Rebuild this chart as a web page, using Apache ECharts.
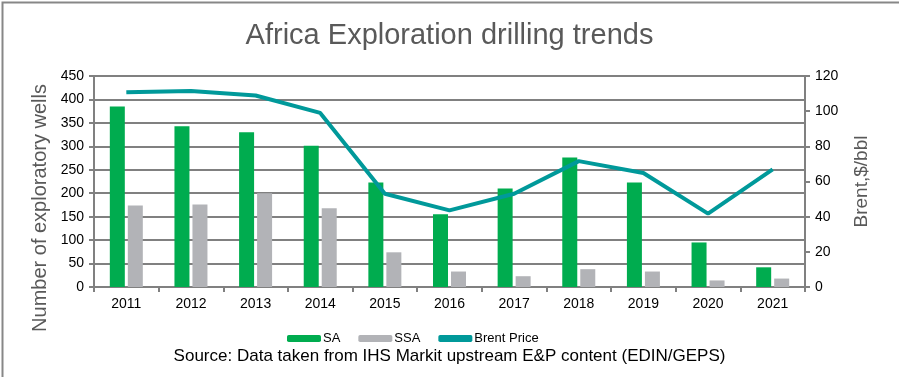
<!DOCTYPE html>
<html>
<head>
<meta charset="utf-8">
<script src="https://cdn.jsdelivr.net/npm/echarts@6/dist/echarts.min.js"></script>
<style>
  html, body { margin: 0; padding: 0; background: #fff; }
  #chart { width: 899px; height: 377px; }
</style>
</head>
<body>
<div id="chart"></div>
<script>
const years = ['2011', '2012', '2013', '2014', '2015', '2016', '2017', '2018', '2019', '2020', '2021']
const saWells = [385, 343, 330, 301, 223, 155, 210, 276, 223, 95, 42]
const ssaWells = [174, 176, 200, 168, 74, 33, 23, 38, 33, 14, 18]
const brentPrice = [110.8, 111.5, 108.9, 99, 53, 43.6, 53, 71.6, 64.8, 41.7, 66.9]

const chart = echarts.init(document.getElementById('chart'))

// 统一字体
const font = 'Liberation Sans, Arial, sans-serif'

chart.setOption({
  animation: false,
  textStyle: { fontFamily: font },

  title: {
    text: 'Africa Exploration drilling trends',
    left: 'center',
    top: 16,
    textStyle: {
      color: '#595959',
      fontWeight: 'normal',
      fontSize: 29,
      fontFamily: font
    }
  },

  grid: {
    left: 94,
    right: 94,
    top: 76,
    bottom: 90,
    containLabel: false
  },

  legend: {
    data: [
      { name: 'SA' },
      { name: 'SSA' },
      { name: 'Brent Price', icon: 'roundRect' }
    ],
    top: 327,
    left: 282,
    itemWidth: 34,
    itemHeight: 7,
    itemGap: 18,
    textStyle: { color: '#000', fontSize: 13, fontFamily: font, padding: [0, 0, 0, -3] }
  },

  xAxis: {
    type: 'category',
    data: years,
    axisLine: { lineStyle: { color: '#808080', width: 2 } },
    axisTick: { show: true, length: 5, lineStyle: { color: '#808080', width: 2 } },
    axisLabel: { color: '#000', fontSize: 14, margin: 10, fontFamily: font }
  },

  yAxis: [
    {
      type: 'value',
      min: 0,
      max: 450,
      interval: 50,
      axisLine: { show: true, lineStyle: { color: '#808080', width: 2 } },
      axisTick: { show: true, length: 5, lineStyle: { color: '#808080', width: 2 } },
      axisLabel: { color: '#000', fontSize: 14, margin: 10, fontFamily: font },
      splitLine: { lineStyle: { color: '#808080', width: 2 } }
    },
    {
      type: 'value',
      min: 0,
      max: 120,
      interval: 20,
      name: 'Brent,$/bbl',
      nameLocation: 'middle',
      nameRotate: 90,
      nameGap: 47,
      nameTextStyle: { color: '#595959', fontSize: 19, fontFamily: font },
      axisLine: { show: true, lineStyle: { color: '#808080', width: 2 } },
      axisTick: { show: true, length: 5, lineStyle: { color: '#808080', width: 2 } },
      axisLabel: { color: '#000', fontSize: 14, margin: 10, fontFamily: font },
      splitLine: { show: false }
    }
  ],

  series: [
    {
      name: 'SA',
      type: 'bar',
      data: saWells,
      barWidth: 15,
      barGap: '20%',
      itemStyle: { color: '#00ac4f' }
    },
    {
      name: 'SSA',
      type: 'bar',
      data: ssaWells,
      barWidth: 15,
      itemStyle: { color: '#b2b3b7' }
    },
    {
      name: 'Brent Price',
      type: 'line',
      yAxisIndex: 1,
      data: brentPrice,
      symbol: 'none',
      lineStyle: { color: '#00999a', width: 4 },
      itemStyle: { color: '#00999a' }
    }
  ],

  graphic: [
    {
      type: 'rect',
      left: 0,
      top: 0,
      shape: { width: 898, height: 376 },
      style: { fill: 'none', stroke: '#878787', lineWidth: 2 },
      silent: true
    },
    {
      type: 'text',
      x: 40,
      y: 208,
      rotation: Math.PI / 2,
      style: {
        text: 'Number of exploratory wells',
        fill: '#595959',
        fontSize: 20,
        fontFamily: font,
        align: 'center',
        verticalAlign: 'middle'
      }
    },
    {
      type: 'text',
      left: 'center',
      top: 348,
      style: {
        text: 'Source: Data taken from IHS Markit upstream E&P content (EDIN/GEPS)',
        fill: '#000',
        fontSize: 17,
        fontFamily: font
      }
    }
  ]
})
</script>
</body>
</html>
